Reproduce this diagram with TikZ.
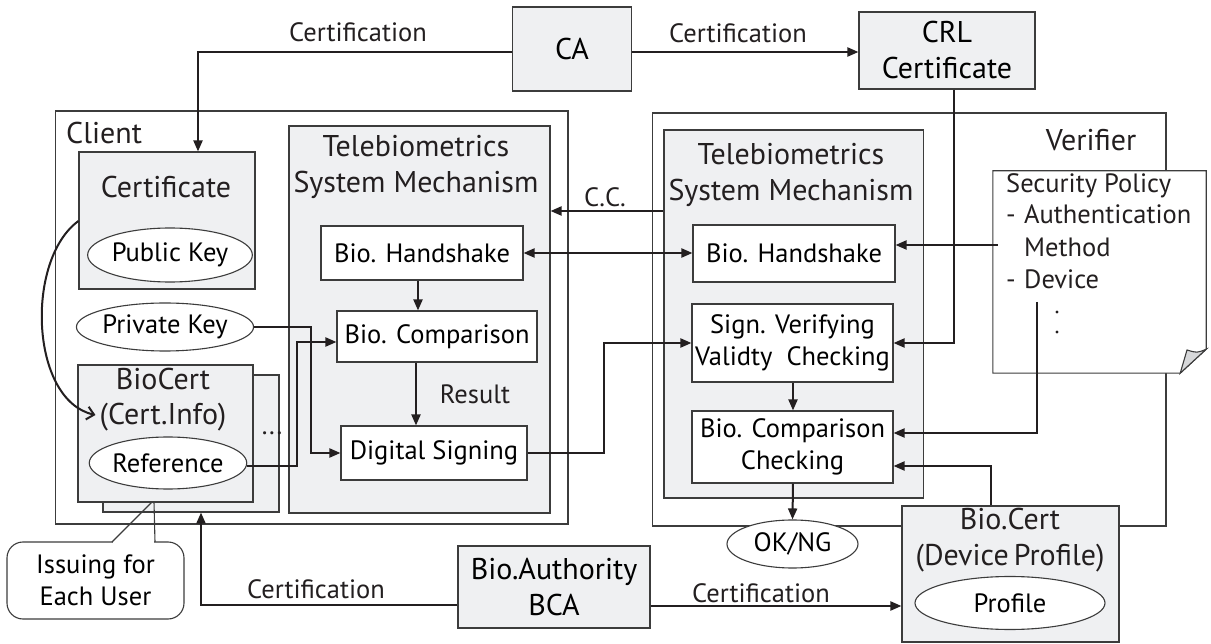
\documentclass[tikz,border=0pt]{standalone}
\usepackage{fontspec}
\setmainfont{PT Sans}
\usetikzlibrary{shapes.geometric,arrows.meta,calc}
\definecolor{boxgray}{RGB}{239,240,242}
\definecolor{foldgray}{RGB}{215,216,218}
\definecolor{linec}{RGB}{60,60,60}
\definecolor{inkc}{RGB}{35,31,32}
\newcommand\fsm{\fontsize{26.5}{32}\selectfont}
\newcommand\fbg{\fontsize{30}{36}\selectfont}
\tikzset{
  gbox/.style={draw=linec, line width=1.1pt, fill=boxgray, inner sep=0pt, align=center, font=\fsm},
  wbox/.style={draw=linec, line width=1.1pt, fill=white, inner sep=0pt, align=center, font=\fsm},
  ell/.style={ellipse, draw=linec, line width=1.1pt, fill=white, inner sep=0pt, font=\fsm},
  arr/.style={line width=2pt, draw=inkc, -{Triangle[length=11pt,width=9pt]}},
  arrboth/.style={line width=2pt, draw=inkc, {Triangle[length=11pt,width=9pt]}-{Triangle[length=11pt,width=9pt]}},
  lbl/.style={inner sep=0pt, font=\fsm, text=inkc},
  ttl/.style={inner sep=0pt, font=\fbg, align=center, text=inkc},
  thin/.style={draw=linec, line width=1.1pt},
}
\begin{document}
\begin{tikzpicture}[x=1pt,y=-1pt]
\useasboundingbox (0,0) rectangle (1211,644);
\fill[white] (0,0) rectangle (1211,644);

% outer boxes
\node[wbox, minimum width=512.5pt, minimum height=413pt] (client) at (311.75,317.5) {};
\node[wbox, minimum width=513.4pt, minimum height=413pt] (verifier) at (909.3,319.5) {};
\node[ttl, anchor=west] (clientlbl) at (66,133) {Client};
\node[ttl] (verlbl) at (1091,140) {Verifier};

% telebiometrics boxes
\node[gbox, minimum width=261pt, minimum height=387pt] (tbc) at (419.5,319.5) {};
\node[gbox, minimum width=259.5pt, minimum height=368pt] (tbv) at (793.75,314) {};
\node[ttl] (tbctitle) at (416,167) {Telebiometrics\\System Mechanism};
\node[ttl] (tbvtitle) at (791,175) {Telebiometrics\\System Mechanism};

% client side
\node[gbox, minimum width=176pt, minimum height=137pt] (cert) at (167,220.5) {};
\node[ttl] (certtitle) at (166,187) {Certificate};
\node[ell, minimum width=154pt, minimum height=54pt] (pubkey) at (170,255) {Public Key};
\node[ell, minimum width=154pt, minimum height=48pt] (privkey) at (165,327) {Private Key};
\node[gbox, minimum width=176pt, minimum height=137pt] (biocertback) at (191,443.5) {};
\node[gbox, minimum width=175pt, minimum height=137pt] (biocert) at (165.5,433.5) {};
\node[ttl, font=\fontsize{30}{35}\selectfont] (biocerttitle) at (163,400) {BioCert\\(Cert.Info)};
\node[ell, minimum width=154pt, minimum height=52pt] (reference) at (168,463) {Reference};
\node[lbl] (dots) at (272,433) {...};

\node[wbox, minimum width=202pt, minimum height=54pt] (bhc) at (422,253) {Bio. Handshake};
\node[wbox, minimum width=200pt, minimum height=51pt] (bcc) at (437,336.5) {Bio. Comparison};
\node[wbox, minimum width=186pt, minimum height=54pt] (ds) at (434,453) {Digital Signing};

% verifier side
\node[wbox, minimum width=202pt, minimum height=57pt] (bhv) at (794,253.5) {Bio. Handshake};
\node[wbox, minimum width=201pt, minimum height=78pt] (sv) at (792.5,343) {Sign. Verifying\\Validty\ \ Checking};
\node[wbox, minimum width=201pt, minimum height=72pt] (bcv) at (792.5,447) {Bio. Comparison\\Checking};
\node[ell, minimum width=131pt, minimum height=48pt] (okng) at (792.5,544) {OK/NG};

% security policy document
\node[minimum width=213pt, minimum height=202pt, inner sep=0pt] (policy) at (1099.5,272) {};
\draw[thin, fill=white] (policy.north west) -- (policy.north east) -- ([yshift=24pt]policy.south east)
  -- ([xshift=-26pt]policy.south east) -- (policy.south west) -- cycle;
\draw[thin, fill=foldgray] ([xshift=-26pt]policy.south east) .. controls (1183,362) .. (1187,350)
  .. controls (1197,353) .. ([yshift=24pt]policy.south east) -- cycle;
\node[lbl, anchor=base west] (sp1) at (1006,192.5) {Security Policy};
\node[lbl, anchor=base west] (sp2a) at (1006,224) {-};
\node[lbl, anchor=base west] (sp2) at (1024,224) {Authentication};
\node[lbl, anchor=base west] (sp3) at (1024,256.5) {Method};
\node[lbl, anchor=base west] (sp4a) at (1006,289) {-};
\node[lbl, anchor=base west] (sp4) at (1024,289) {Device};
\fill[inkc] (1057,312) circle (1.6pt) (1057,332) circle (1.6pt);
\coordinate (dev) at (1037,302);

% other boxes
\node[gbox, minimum width=217pt, minimum height=136pt] (biocertv) at (1010.5,574) {};
\node[ttl] (biocertvtitle) at (1010,540) {Bio.Cert\\(Device\,Profile)};
\node[ell, minimum width=190pt, minimum height=53pt] (profile) at (1010,603) {Profile};
\node[gbox, minimum width=192pt, minimum height=82pt, font=\fbg] (bca) at (554,587) {Bio.Authority\\BCA};
\node[gbox, minimum width=119pt, minimum height=84pt, font=\fbg] (ca) at (572,49) {CA};
\node[gbox, minimum width=176pt, minimum height=77pt, font=\fbg] (crl) at (947,50.5) {CRL\\Certificate};

% callout
\node[wbox, rounded corners=16pt, minimum width=177pt, minimum height=77pt] (callout) at (95.5,580.5) {Issuing for\\Each User};
\fill[white] (113,539) rectangle (154.4,544);
\draw[thin] (112,542) -- (152,502);
\draw[thin] (154,502) -- (155,542);

% connectors
\draw[arr] (ca.west |- 0,52) -| (cert.north -| 198,0);
\draw[arr] (ca.east |- 0,52) -- (crl.west |- 0,52);
\node[lbl] (certlbl1) at (358,32) {Certification};
\node[lbl] (certlbl2) at (738,33) {Certification};

\draw[arr] ([xshift=7pt]crl.south) |- (sv.east);
\draw[arr] (tbv.west |- 0,211) -- (tbc.east |- 0,211);
\node[lbl] (cclbl) at (605,197) {C.C.};
\draw[arrboth] (bhc.east) -- (bhc.east -| bhv.west);

\draw[arr] (bhc.south -| 418,0) -- (bcc.north -| 418,0);
\draw[arr] (bcc.south -| 416,0) -- (ds.north -| 416,0);
\node[lbl] (reslbl) at (475,394) {Result};

\draw[arr] (privkey.east) -| (311,400) |- (ds.west);
\draw[arr] (reference.east |- 0,466) -| (297,400) |- (bcc.west |- 0,342);
\draw[arr] (ds.east) -| (604,400) |- (sv.west);

\draw[arr] ($(policy.west |- 0,245)+(5,0)$) -- (bhv.east |- 0,245);
\draw[arr] (dev) |- (bcv.east |- 0,433);
\draw[arr] (biocertv.north -| 991,0) |- (bcv.east |- 0,466);
\draw[arr] (sv.south -| 793,0) -- (bcv.north -| 793,0);
\draw[arr] (bcv.south -| 793,0) -- (okng.north);

\draw[arr] (bca.west |- 0,605) -| (biocertback.south -| 201,0);
\draw[arr] (bca.east |- 0,606) -- (biocertv.west |- 0,606);
\node[lbl] (certlbl3) at (316,589) {Certification};
\node[lbl] (certlbl4) at (761,593) {Certification};

\draw[line width=2pt, draw=inkc, -{Straight Barb[length=7pt,width=13pt]}]
  (cert.west |- 0,221) .. controls (25,260) and (30,400) .. ($(biocert.west |- 0,415)+(18,0)$);
\end{tikzpicture}
\end{document}
